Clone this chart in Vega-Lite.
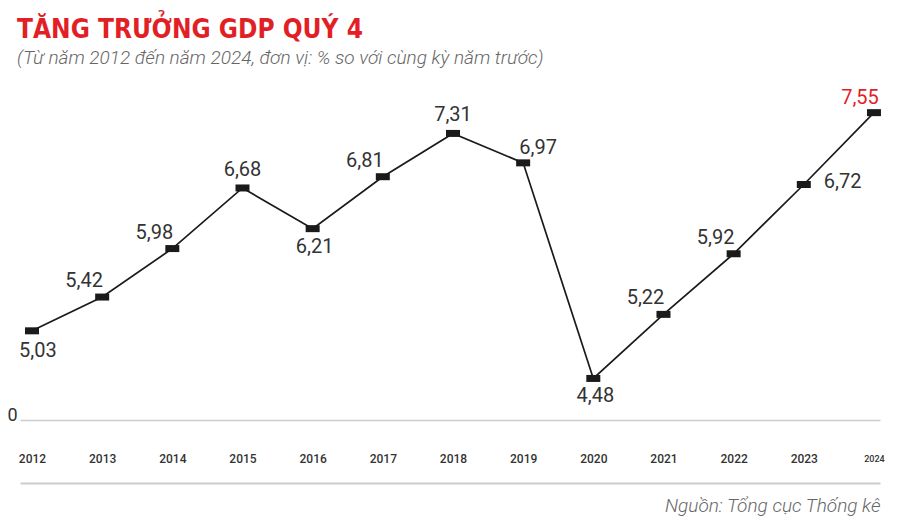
{
  "$schema": "https://vega.github.io/schema/vega-lite/v6.json",
  "width": 860,
  "height": 329,
  "autosize": {"type": "none"},
  "padding": {"left": 20, "right": 20, "top": 91, "bottom": 104},
  "background": "white",
  "config": {
    "view": {"stroke": null},
    "locale": {"number": {"decimal": ",", "thousands": ".", "grouping": [3], "currency": ["", ""]}}
  },
  "title": {
    "text": "TĂNG TRƯỞNG GDP QUÝ 4",
    "subtitle": "(Từ năm 2012 đến năm 2024, đơn vị: % so với cùng kỳ năm trước)",
    "anchor": "start",
    "frame": "group",
    "dx": -3,
    "offset": 20,
    "font": "DejaVu Sans Condensed",
    "fontSize": 26,
    "fontWeight": "bold",
    "color": "#e21f26",
    "subtitleFont": "Roboto",
    "subtitleFontSize": 19,
    "subtitleFontStyle": "italic",
    "subtitleFontWeight": 300,
    "subtitleColor": "#666666",
    "subtitlePadding": 6
  },
  "data": {
    "values": [
      {"year": 2012, "value": 5.03},
      {"year": 2013, "value": 5.42},
      {"year": 2014, "value": 5.98},
      {"year": 2015, "value": 6.68},
      {"year": 2016, "value": 6.21},
      {"year": 2017, "value": 6.81},
      {"year": 2018, "value": 7.31},
      {"year": 2019, "value": 6.97},
      {"year": 2020, "value": 4.48},
      {"year": 2021, "value": 5.22},
      {"year": 2022, "value": 5.92},
      {"year": 2023, "value": 6.72},
      {"year": 2024, "value": 7.55}
    ]
  },
  "encoding": {
    "x": {
      "field": "year",
      "type": "quantitative",
      "scale": {"domain": [2011.829, 2024.086], "nice": false, "zero": false},
      "axis": {
        "values": [2012, 2013, 2014, 2015, 2016, 2017, 2018, 2019, 2020, 2021, 2022, 2023, 2024],
        "format": "d",
        "offset": 63,
        "domain": true,
        "domainColor": "#cccccc",
        "domainWidth": 2,
        "ticks": false,
        "grid": false,
        "labelPadding": -25,
        "labelBaseline": "middle",
        "labelFont": "Roboto",
        "labelFontWeight": 500,
        "labelFontSize": {"condition": {"test": "datum.value == 2024", "value": 9}, "value": 12},
        "labelColor": "#333333",
        "labelFlush": false,
        "labelOverlap": false,
        "title": "Nguồn: Tổng cục Thống kê",
        "titleAnchor": "end",
        "titleFont": "Roboto",
        "titleFontStyle": "italic",
        "titleFontWeight": 300,
        "titleFontSize": 19,
        "titleColor": "#666666",
        "titlePadding": 13
      }
    },
    "y": {
      "field": "value",
      "type": "quantitative",
      "scale": {"domain": [4, 7.8], "nice": false, "zero": false},
      "axis": {
        "values": [4],
        "labelExpr": "'0'",
        "grid": true,
        "gridColor": "#cccccc",
        "gridWidth": 1.5,
        "domain": false,
        "ticks": false,
        "labelFont": "Roboto",
        "labelFontSize": 18,
        "labelColor": "#333333",
        "labelPadding": 3,
        "labelBaseline": "alphabetic",
        "title": null
      }
    }
  },
  "layer": [
    {"mark": {"type": "line", "color": "#1a1a1a", "strokeWidth": 1.7}},
    {"mark": {"type": "point", "shape": "M-1,-0.5H1V0.5H-1Z", "size": 196, "filled": true, "color": "#1a1a1a", "opacity": 1}},
    {
      "transform": [{"filter": "datum.year == 2012"}],
      "mark": {"type": "text", "font": "Roboto", "fontSize": 20, "color": "#333333", "align": "left", "baseline": "middle", "dx": -13, "dy": 20},
      "encoding": {"text": {"field": "value", "type": "quantitative", "format": ".2f"}}
    },
    {
      "transform": [{"filter": "indexof([2016, 2020], datum.year) >= 0"}],
      "mark": {"type": "text", "font": "Roboto", "fontSize": 20, "color": "#333333", "align": "center", "baseline": "middle", "dx": 2, "dy": 18},
      "encoding": {"text": {"field": "value", "type": "quantitative", "format": ".2f"}}
    },
    {
      "transform": [{"filter": "indexof([2013, 2014, 2017, 2021, 2022], datum.year) >= 0"}],
      "mark": {"type": "text", "font": "Roboto", "fontSize": 20, "color": "#333333", "align": "center", "baseline": "middle", "dx": -18, "dy": -16},
      "encoding": {"text": {"field": "value", "type": "quantitative", "format": ".2f"}}
    },
    {
      "transform": [{"filter": "indexof([2015, 2018], datum.year) >= 0"}],
      "mark": {"type": "text", "font": "Roboto", "fontSize": 20, "color": "#333333", "align": "center", "baseline": "middle", "dy": -18},
      "encoding": {"text": {"field": "value", "type": "quantitative", "format": ".2f"}}
    },
    {
      "transform": [{"filter": "datum.year == 2019"}],
      "mark": {"type": "text", "font": "Roboto", "fontSize": 20, "color": "#333333", "align": "center", "baseline": "middle", "dx": 15, "dy": -15},
      "encoding": {"text": {"field": "value", "type": "quantitative", "format": ".2f"}}
    },
    {
      "transform": [{"filter": "datum.year == 2023"}],
      "mark": {"type": "text", "font": "Roboto", "fontSize": 20, "color": "#333333", "align": "left", "baseline": "middle", "dx": 20, "dy": -3},
      "encoding": {"text": {"field": "value", "type": "quantitative", "format": ".2f"}}
    },
    {
      "transform": [{"filter": "datum.year == 2024"}],
      "mark": {"type": "text", "font": "Roboto", "fontSize": 20, "color": "#e21f26", "align": "center", "baseline": "middle", "dx": -14, "dy": -15},
      "encoding": {"text": {"field": "value", "type": "quantitative", "format": ".2f"}}
    }
  ]
}
